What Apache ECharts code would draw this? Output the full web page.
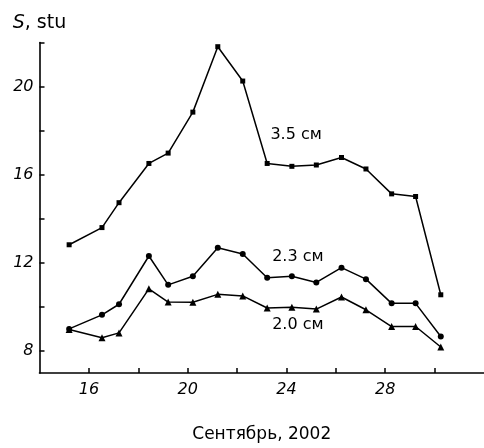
<!DOCTYPE html>
<html>
<head>
<meta charset="utf-8">
<script src="https://cdn.jsdelivr.net/npm/echarts@6/dist/echarts.min.js"></script>
<style>
html,body{margin:0;padding:0;background:#fff;}
#chart{width:484px;height:448px;}
</style>
</head>
<body>
<div id="chart"></div>
<script>
// Day of September (x positions of the measurements)
const days = [15.2, 16.53, 17.22, 18.43, 19.21, 20.21, 21.22, 22.23, 23.22, 24.22, 25.21, 26.23, 27.22, 28.26, 29.23, 30.25];
// Flux S, stu
const s35 = [12.82, 13.60, 14.73, 16.51, 16.98, 18.84, 21.81, 20.25, 16.51, 16.38, 16.44, 16.78, 16.26, 15.13, 15.01, 10.55];
const s23 = [9.00, 9.64, 10.12, 12.31, 11.00, 11.39, 12.68, 12.40, 11.32, 11.39, 11.11, 11.78, 11.26, 10.16, 10.16, 8.66];
const s20 = [8.97, 8.60, 8.82, 10.82, 10.22, 10.21, 10.57, 10.50, 9.95, 9.98, 9.90, 10.45, 9.87, 9.11, 9.11, 8.18];
// Curve labels: [text, day, value]
const curveLabels = [
  ['3.5 см', 23.33, 17.83],
  ['2.3 см', 23.4, 12.26],
  ['2.0 см', 23.4, 9.18]
];
const xTicks = [16, 18, 20, 22, 24, 26, 28, 30];
const xLabels = [16, 20, 24, 28];
const yTicks = [8, 10, 12, 14, 16, 18, 20, 22];
const yLabels = [8, 12, 16, 20];

const FONT = 'DejaVu Sans';
const chart = echarts.init(document.getElementById('chart'), null, {renderer: 'canvas'});

function pairs(vals) { return days.map((d, i) => [d, vals[i]]); }
function mark(idx) {
  const l = curveLabels[idx];
  return {
    symbol: 'rect',
    symbolSize: 1,
    silent: true,
    itemStyle: {color: 'rgba(0,0,0,0)'},
    label: {
      show: true, formatter: l[0], position: 'right', distance: 0,
      color: '#000', fontFamily: FONT, fontSize: 16
    },
    data: [{coord: [l[1], l[2]]}]
  };
}
const common = {
  type: 'line',
  color: '#000',
  lineStyle: {color: '#000', width: 1.5},
  itemStyle: {color: '#000'},
  animation: false,
  z: 3
};

chart.setOption({
  backgroundColor: '#fff',
  animation: false,
  grid: {left: 39.5, top: 42.5, right: -8.4, bottom: 73, containLabel: false},
  xAxis: {
    type: 'value', min: 14, max: 32,
    name: 'Сентябрь, 2002', nameLocation: 'middle', nameGap: 53,
    nameTextStyle: {fontFamily: FONT, fontSize: 17, color: '#000'},
    axisLine: {show: true, onZero: false, lineStyle: {color: '#000', width: 1.6}},
    axisTick: {show: true, inside: true, length: 5, customValues: xTicks, lineStyle: {color: '#000', width: 1.5}},
    axisLabel: {show: true, customValues: xLabels, margin: 9, color: '#000', fontFamily: FONT, fontStyle: 'italic', fontSize: 16},
    splitLine: {show: false}
  },
  yAxis: {
    type: 'value', min: 7, max: 22,
    name: '{i|S}{n|, stu}', nameLocation: 'end', nameGap: 10,
    nameTextStyle: {
      color: '#000',
      rich: {
        i: {fontFamily: FONT, fontStyle: 'italic', fontSize: 19, color: '#000'},
        n: {fontFamily: FONT, fontSize: 19, color: '#000'}
      }
    },
    axisLine: {show: true, onZero: false, lineStyle: {color: '#000', width: 1.6}},
    axisTick: {show: true, inside: true, length: 5, customValues: yTicks, lineStyle: {color: '#000', width: 1.5}},
    axisLabel: {show: true, customValues: yLabels, margin: 6, color: '#000', fontFamily: FONT, fontStyle: 'italic', fontSize: 16},
    splitLine: {show: false}
  },
  series: [
    Object.assign({}, common, {name: '3.5 см', data: pairs(s35), symbol: 'rect', symbolSize: 5, markPoint: mark(0)}),
    Object.assign({}, common, {name: '2.3 см', data: pairs(s23), symbol: 'circle', symbolSize: 6, markPoint: mark(1)}),
    Object.assign({}, common, {name: '2.0 см', data: pairs(s20), symbol: 'triangle', symbolSize: 7, markPoint: mark(2)})
  ]
});
</script>
</body>
</html>
